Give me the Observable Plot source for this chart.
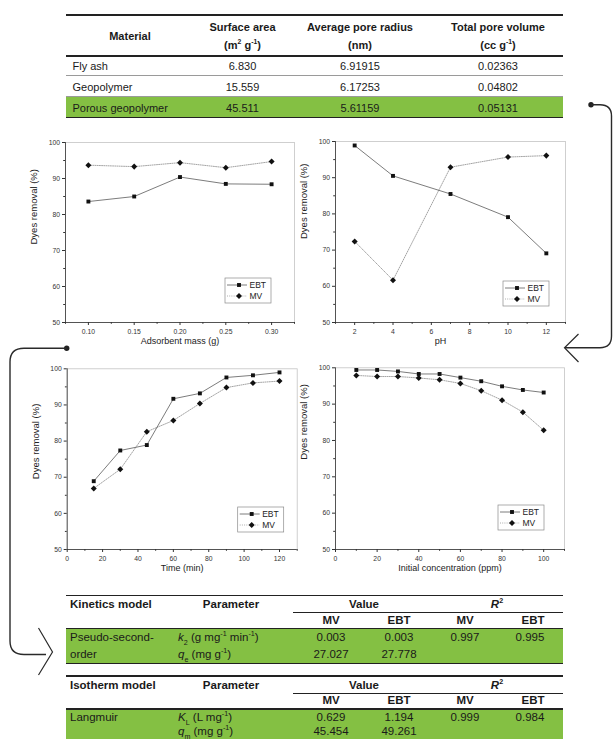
<!DOCTYPE html>
<html><head><meta charset="utf-8">
<script src="https://cdn.jsdelivr.net/npm/d3@7"></script>
<script src="https://cdn.jsdelivr.net/npm/@observablehq/plot@0.6"></script>
<style>
html,body{margin:0;padding:0;background:#fff;}
#page{position:relative;width:614px;height:739px;overflow:hidden;background:#fff;font-family:"Liberation Sans",Arial,sans-serif;color:#1a1a1a;}
.t{position:absolute;white-space:nowrap;line-height:1;}
.l{position:absolute;}
.t sup,.t sub{font-size:0.62em;line-height:0;}
.chart{position:absolute;}
</style></head><body><div id="page"></div>
<script>
// ---------- data ----------
const materials = ["Fly ash", "Geopolymer", "Porous geopolymer"];
const surfaceArea = ["6.830", "15.559", "45.511"];
const poreRadius = ["6.91915", "6.17253", "5.61159"];
const poreVolume = ["0.02363", "0.04802", "0.05131"];

const massX = [0.10, 0.15, 0.20, 0.25, 0.30];
const massEBT = [83.6, 85.0, 90.4, 88.5, 88.4];
const massMV = [93.7, 93.3, 94.4, 93.0, 94.7];

const phX = [2, 4, 7, 10, 12];
const phEBT = [98.9, 90.5, 85.5, 79.1, 69.1];
const phMV = [72.4, 61.7, 92.9, 95.7, 96.1];

const timeX = [15, 30, 45, 60, 75, 90, 105, 120];
const timeEBT = [68.9, 77.4, 78.9, 91.7, 93.2, 97.6, 98.2, 99.0];
const timeMV = [66.9, 72.2, 82.6, 85.7, 90.4, 94.8, 96.1, 96.6];

const concX = [10, 20, 30, 40, 50, 60, 70, 80, 90, 100];
const concEBT = [99.4, 99.4, 99.0, 98.3, 98.3, 97.3, 96.3, 94.9, 93.9, 93.2];
const concMV = [97.9, 97.6, 97.6, 97.2, 96.7, 95.7, 93.7, 91.1, 87.8, 82.8];

const yMajor = [50, 60, 70, 80, 90, 100];
const yMinor = [55, 65, 75, 85, 95];

const kinModel = ["Pseudo-second-", "order"];
const kinParams = ["<i>k</i><sub>2</sub> (g mg<sup>-1</sup> min<sup>-1</sup>)", "<i>q</i><sub>e</sub> (mg g<sup>-1</sup>)"];
const kinMV = ["0.003", "27.027"];
const kinEBT = ["0.003", "27.778"];
const kinR2 = ["0.997", "0.995"];

const isoModel = ["Langmuir", ""];
const isoParams = ["<i>K</i><sub>L</sub> (L mg<sup>-1</sup>)", "<i>q</i><sub>m</sub> (mg g<sup>-1</sup>)"];
const isoMV = ["0.629", "45.454"];
const isoEBT = ["1.194", "49.261"];
const isoR2 = ["0.999", "0.984"];

const GREEN = "#84c043";
const page = document.getElementById("page");

function rect(x1, y1, x2, y2, color) {
  const d = document.createElement("div"); d.className = "l";
  Object.assign(d.style, {left: x1 + "px", top: y1 + "px", width: (x2 - x1) + "px", height: (y2 - y1) + "px", background: color});
  page.appendChild(d);
}
function hline(x1, x2, y, w, color) { rect(x1, y - w / 2, x2, y + w / 2, color); }
function text(x, y, html, o = {}) {
  const {anchor = "middle", size = 11, weight = "normal"} = o;
  const d = document.createElement("div"); d.className = "t"; d.innerHTML = html;
  const tx = anchor === "middle" ? "-50%" : anchor === "end" ? "-100%" : "0";
  Object.assign(d.style, {left: x + "px", top: y + "px", transform: `translate(${tx},-50%)`, fontSize: size + "px", fontWeight: weight});
  page.appendChild(d);
}

// ---------- top table ----------
const TL = 66, TR = 563;
hline(TL, TR, 14.5, 2, "#222");
const B = {weight: "bold", size: 11};
text(130, 36, "Material", B);
text(242.5, 27, "Surface area", B); text(242.5, 45, "(m<sup>2</sup> g<sup>-1</sup>)", B);
text(360, 27, "Average pore radius", B); text(360, 45, "(nm)", B);
text(498, 27, "Total pore volume", B); text(498, 45, "(cc g<sup>-1</sup>)", B);
hline(TL, TR, 55.8, 1.6, "#222");
rect(TL, 97.2, TR, 117.3, GREEN);
hline(TL, TR, 75.8, 1, "#9a9a9a");
hline(TL, TR, 96.8, 1, "#9a9a9a");
hline(TL, TR, 117.3, 1.6, "#222");
const rowY = [65.5, 86.5, 107.5];
materials.forEach((m, i) => {
  text(72.5, rowY[i], m, {anchor: "start"});
  text(242.5, rowY[i], surfaceArea[i]);
  text(360, rowY[i], poreRadius[i]);
  text(498, rowY[i], poreVolume[i]);
});

// ---------- bottom tables ----------
function paramTable(top, title, model, params, mv, ebt, r2, gap2) {
  const S = 11.5, BB = {weight: "bold", size: S};
  hline(TL, TR, top, 1.6, "#222");
  text(70, top + 9.5, title, {...BB, anchor: "start"});
  text(231, top + 9.5, "Parameter", BB);
  text(364, top + 9.5, "Value", BB);
  text(497, top + 9.5, "<i>R</i><sup>2</sup>", BB);
  hline(293, TR, top + 17, 1, "#222");
  text(331, top + 25, "MV", BB); text(399, top + 25, "EBT", BB);
  text(465, top + 25, "MV", BB); text(533, top + 25, "EBT", BB);
  rect(TL, top + 33, TR, top + 68, GREEN);
  hline(TL, TR, top + 33, 1.6, "#222");
  hline(TL, TR, top + 68, 1.6, "#222");
  const ys = [top + 42, top + 42 + gap2];
  [0, 1].forEach(i => {
    text(70, ys[i], model[i], {anchor: "start", size: S});
    text(178, ys[i], params[i], {anchor: "start", size: S});
    text(331, ys[i], mv[i], {size: S});
    text(399, ys[i], ebt[i], {size: S});
  });
  text(465, ys[0], r2[0], {size: S});
  text(530, ys[0], r2[1], {size: S});
}
paramTable(595.5, "Kinetics model", kinModel, kinParams, kinMV, kinEBT, kinR2, 17);
paramTable(676, "Isotherm model", isoModel, isoParams, isoMV, isoEBT, isoR2, 13.5);

// ---------- charts ----------
const diamondSym = {draw(ctx, size) { const r = Math.sqrt(size / 2); ctx.moveTo(0, -r); ctx.lineTo(r, 0); ctx.lineTo(0, r); ctx.lineTo(-r, 0); ctx.closePath(); }};
const FONT = "Liberation Sans, Arial, sans-serif";

function makeChart(c) {
  const ebtData = c.x.map((x, i) => ({x, y: c.ebt[i]}));
  const mvData = c.x.map((x, i) => ({x, y: c.mv[i]}));
  const svg = Plot.plot({
    width: c.width, height: c.height,
    marginLeft: c.ml, marginRight: c.mr, marginTop: c.mt, marginBottom: c.mb,
    style: {fontFamily: FONT, fontSize: "6.8px", color: "#333", background: "transparent", overflow: "visible"},
    x: {domain: c.xDomain, label: null},
    y: {domain: [50, 100], label: null},
    marks: [
      Plot.frame({stroke: "#c4c4c4", strokeWidth: 0.8}),
      Plot.ruleY([50], {stroke: "#333", strokeWidth: 0.8}),
      Plot.ruleX([c.xDomain[0]], {stroke: "#333", strokeWidth: 0.8}),
      Plot.axisY({ticks: yMajor, tickSize: 3, tickPadding: 2.5, label: null}),
      Plot.axisY({ticks: yMinor, tickSize: 1.8, tickFormat: () => "", label: null}),
      Plot.axisX({ticks: c.xMajor, tickSize: 3, tickPadding: 3.5, tickFormat: c.fmt, label: null}),
      Plot.axisX({ticks: c.xMinor, tickSize: 1.8, tickFormat: () => "", label: null}),
      Plot.text([c.xLabel], {text: d => d, frameAnchor: "bottom", dx: c.xdx || 0, dy: 21.5, fontSize: 9, fill: "#222"}),
      Plot.text(["Dyes removal (%)"], {text: d => d, frameAnchor: "left", rotate: -90, dx: -31.5, dy: c.ydy, fontSize: 9.5, fill: "#222"}),
      Plot.line(mvData, {x: "x", y: "y", stroke: "#9a9a9a", strokeWidth: 0.9, strokeDasharray: "1,1.2"}),
      Plot.line(ebtData, {x: "x", y: "y", stroke: "#5a5a5a", strokeWidth: 0.8}),
      Plot.dot(ebtData, {x: "x", y: "y", symbol: "square", r: 2.2, fill: "#111"}),
      Plot.dot(mvData, {x: "x", y: "y", symbol: diamondSym, r: 2.4, fill: "#111"})
    ]
  });
  // legend box
  const x1 = c.width - c.mr, y1 = c.height - c.mb;
  const bw = 46, bh = 25;
  const bx = x1 - c.legR - bw, by = y1 - c.legB - bh;
  const g = d3.select(svg).append("g").attr("font-family", FONT).attr("text-anchor", "start");
  g.append("rect").attr("x", bx).attr("y", by).attr("width", bw).attr("height", bh)
    .attr("fill", "none").attr("stroke", "#8a8a8a").attr("stroke-width", 0.7);
  const rows = [
    {name: "EBT", y: by + 7, stroke: "#5a5a5a", dash: null, sym: d3.symbolSquare, size: Math.PI * 2.2 * 2.2},
    {name: "MV", y: by + 18, stroke: "#9a9a9a", dash: "1,1.2", sym: diamondSym, size: Math.PI * 2.4 * 2.4}
  ];
  rows.forEach(r => {
    g.append("line").attr("x1", bx + 2).attr("x2", bx + 22).attr("y1", r.y).attr("y2", r.y)
      .attr("stroke", r.stroke).attr("stroke-width", 0.8).attr("stroke-dasharray", r.dash);
    g.append("path").attr("d", d3.symbol(r.sym, r.size)()).attr("transform", `translate(${bx + 14},${r.y})`).attr("fill", "#111");
    g.append("text").attr("x", bx + 24.5).attr("y", r.y).attr("dy", "0.35em").attr("text-anchor", "start")
      .attr("font-size", 8.5).attr("fill", "#222").text(r.name);
  });
  const wrap = document.createElement("div");
  wrap.className = "chart";
  wrap.style.left = c.left + "px"; wrap.style.top = c.top + "px";
  wrap.appendChild(svg);
  page.appendChild(wrap);
}

makeChart({x: massX, ebt: massEBT, mv: massMV, xDomain: [0.075, 0.325],
  xMajor: [0.10, 0.15, 0.20, 0.25, 0.30], xMinor: [0.075, 0.125, 0.175, 0.225, 0.275, 0.325], fmt: d3.format(".2f"),
  xLabel: "Adsorbent mass (g)", left: 20, top: 130, width: 285, height: 225, ml: 45, mr: 11, mt: 12, mb: 33,
  ydy: 12, legR: 23, legB: 19});
makeChart({x: phX, ebt: phEBT, mv: phMV, xDomain: [1, 13],
  xMajor: [2, 4, 6, 8, 10, 12], xMinor: [1, 3, 5, 7, 9, 11, 13], fmt: d3.format("d"),
  xLabel: "pH", xdx: -10, left: 290, top: 129, width: 290, height: 226, ml: 45, mr: 15, mt: 12, mb: 33,
  ydy: 7, legR: 16, legB: 16});
makeChart({x: timeX, ebt: timeEBT, mv: timeMV, xDomain: [0, 130],
  xMajor: [0, 20, 40, 60, 80, 100, 120], xMinor: [10, 30, 50, 70, 90, 110, 130], fmt: d3.format("d"),
  xLabel: "Time (min)", left: 20, top: 356, width: 290, height: 226, ml: 46.7, mr: 13.3, mt: 12.3, mb: 33,
  ydy: 20, legR: 13, legB: 17});
makeChart({x: concX, ebt: concEBT, mv: concMV, xDomain: [0, 110],
  xMajor: [0, 20, 40, 60, 80, 100], xMinor: [10, 30, 50, 70, 90, 110], fmt: d3.format("d"),
  xLabel: "Initial concentration (ppm)", left: 290, top: 355, width: 290, height: 227, ml: 45, mr: 16, mt: 12.3, mb: 33,
  ydy: 1, legR: 20, legB: 19});

// ---------- connectors ----------
const NS = "http://www.w3.org/2000/svg";
const ov = document.createElementNS(NS, "svg");
ov.setAttribute("width", 614); ov.setAttribute("height", 739);
ov.style.position = "absolute"; ov.style.left = "0"; ov.style.top = "0"; ov.style.pointerEvents = "none";
ov.innerHTML = `
<circle cx="591" cy="104.7" r="2.7" fill="#222"/>
<path d="M591,104.7 H600 Q611.5,104.7 611.5,116 V336 Q611.5,347.7 600,347.7 H565" fill="none" stroke="#2a2a2a" stroke-width="1.4"/>
<path d="M578.5,334 L564.5,347.7 L578.5,362" fill="none" stroke="#2a2a2a" stroke-width="1.2"/>
<circle cx="66.7" cy="348.3" r="2.7" fill="#222"/>
<path d="M66.7,348.3 H24 Q10,348.3 10,362 V641 Q10,654.5 24,654.5 H46" fill="none" stroke="#2a2a2a" stroke-width="1.4"/>
<path d="M38.5,628 L52.5,652 L38.5,675" fill="none" stroke="#2a2a2a" stroke-width="1.2"/>`;
page.appendChild(ov);
</script></body></html>
